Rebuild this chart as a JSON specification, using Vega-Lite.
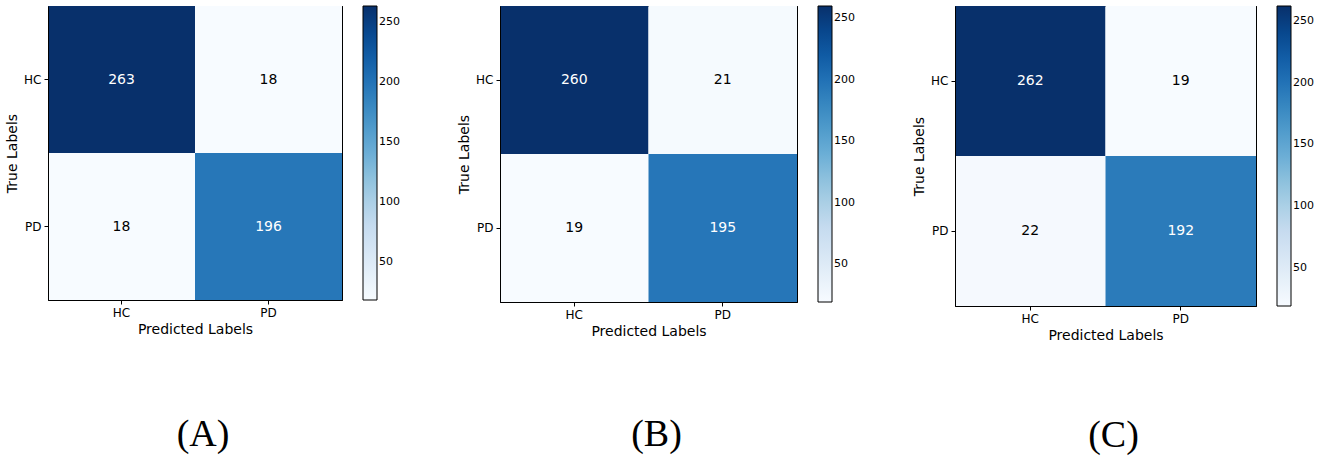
{
  "$schema": "https://vega.github.io/schema/vega-lite/v6.json",
  "background": "white",
  "padding": {"left": 5, "top": 5, "right": 0, "bottom": 0},
  "datasets": {
    "cm": [
      {"panel": "A", "actual": "HC", "pred": "HC", "count": 263},
      {"panel": "A", "actual": "HC", "pred": "PD", "count": 18},
      {"panel": "A", "actual": "PD", "pred": "HC", "count": 18},
      {"panel": "A", "actual": "PD", "pred": "PD", "count": 196},
      {"panel": "B", "actual": "HC", "pred": "HC", "count": 260},
      {"panel": "B", "actual": "HC", "pred": "PD", "count": 21},
      {"panel": "B", "actual": "PD", "pred": "HC", "count": 19},
      {"panel": "B", "actual": "PD", "pred": "PD", "count": 195},
      {"panel": "C", "actual": "HC", "pred": "HC", "count": 262},
      {"panel": "C", "actual": "HC", "pred": "PD", "count": 19},
      {"panel": "C", "actual": "PD", "pred": "HC", "count": 22},
      {"panel": "C", "actual": "PD", "pred": "PD", "count": 192}
    ]
  },
  "data": {"name": "cm"},
  "spacing": 56,
  "hconcat": [
    {
      "width": 294, "height": 294,
      "transform": [{"filter": "datum.panel === 'A'"}],
      "title": {"text": "(A)", "orient": "bottom", "offset": 80, "dx": 8},
      "resolve": {"axis": {"x": "independent", "y": "independent"}},
      "layer": [
        {
          "mark": {"type": "rect"},
          "encoding": {
            "x": {"field": "pred", "type": "nominal", "sort": ["HC", "PD"], "title": "Predicted Labels", "scale": {"paddingInner": 0, "paddingOuter": 0}},
            "y": {"field": "actual", "type": "nominal", "sort": ["HC", "PD"], "title": "True Labels", "scale": {"paddingInner": 0, "paddingOuter": 0}},
            "color": {"field": "count", "type": "quantitative",
              "scale": {"domain": [18, 48.625, 79.25, 109.875, 140.5, 171.125, 201.75, 232.375, 263], "range": ["#f7fbff", "#deebf7", "#c6dbef", "#9ecae1", "#6baed6", "#4292c6", "#2171b5", "#08519c", "#08306b"], "interpolate": "rgb", "zero": false, "nice": false},
              "legend": {"title": null, "offset": 21, "gradientLength": 294, "gradientThickness": 14, "values": [50, 100, 150, 200, 250]}}
          }
        },
        {
          "mark": {"type": "text", "fontSize": 14, "font": "DejaVu Sans"},
          "encoding": {
            "x": {"field": "pred", "type": "nominal", "sort": ["HC", "PD"], "axis": {"orient": "top", "labels": false, "ticks": false, "title": null}},
            "y": {"field": "actual", "type": "nominal", "sort": ["HC", "PD"], "axis": {"orient": "right", "labels": false, "ticks": false, "title": null}},
            "text": {"field": "count", "type": "quantitative"},
            "color": {"condition": {"test": "datum.count > 140", "value": "white"}, "value": "black"}
          }
        }
      ]
    },
    {
      "width": 297, "height": 296,
      "transform": [{"filter": "datum.panel === 'B'"}],
      "title": {"text": "(B)", "orient": "bottom", "offset": 78, "dx": 8},
      "resolve": {"axis": {"x": "independent", "y": "independent"}},
      "layer": [
        {
          "mark": {"type": "rect"},
          "encoding": {
            "x": {"field": "pred", "type": "nominal", "sort": ["HC", "PD"], "title": "Predicted Labels", "scale": {"paddingInner": 0, "paddingOuter": 0}},
            "y": {"field": "actual", "type": "nominal", "sort": ["HC", "PD"], "title": "True Labels", "scale": {"paddingInner": 0, "paddingOuter": 0}},
            "color": {"field": "count", "type": "quantitative",
              "scale": {"domain": [19, 49.125, 79.25, 109.375, 139.5, 169.625, 199.75, 229.875, 260], "range": ["#f7fbff", "#deebf7", "#c6dbef", "#9ecae1", "#6baed6", "#4292c6", "#2171b5", "#08519c", "#08306b"], "interpolate": "rgb", "zero": false, "nice": false},
              "legend": {"title": null, "offset": 21, "gradientLength": 296, "gradientThickness": 14, "values": [50, 100, 150, 200, 250]}}
          }
        },
        {
          "mark": {"type": "text", "fontSize": 14, "font": "DejaVu Sans"},
          "encoding": {
            "x": {"field": "pred", "type": "nominal", "sort": ["HC", "PD"], "axis": {"orient": "top", "labels": false, "ticks": false, "title": null}},
            "y": {"field": "actual", "type": "nominal", "sort": ["HC", "PD"], "axis": {"orient": "right", "labels": false, "ticks": false, "title": null}},
            "text": {"field": "count", "type": "quantitative"},
            "color": {"condition": {"test": "datum.count > 140", "value": "white"}, "value": "black"}
          }
        }
      ]
    },
    {
      "width": 301, "height": 300,
      "transform": [{"filter": "datum.panel === 'C'"}],
      "title": {"text": "(C)", "orient": "bottom", "offset": 75, "dx": 8},
      "resolve": {"axis": {"x": "independent", "y": "independent"}},
      "layer": [
        {
          "mark": {"type": "rect"},
          "encoding": {
            "x": {"field": "pred", "type": "nominal", "sort": ["HC", "PD"], "title": "Predicted Labels", "scale": {"paddingInner": 0, "paddingOuter": 0}},
            "y": {"field": "actual", "type": "nominal", "sort": ["HC", "PD"], "title": "True Labels", "scale": {"paddingInner": 0, "paddingOuter": 0}},
            "color": {"field": "count", "type": "quantitative",
              "scale": {"domain": [19, 49.375, 79.75, 110.125, 140.5, 170.875, 201.25, 231.625, 262], "range": ["#f7fbff", "#deebf7", "#c6dbef", "#9ecae1", "#6baed6", "#4292c6", "#2171b5", "#08519c", "#08306b"], "interpolate": "rgb", "zero": false, "nice": false},
              "legend": {"title": null, "offset": 21, "gradientLength": 300, "gradientThickness": 14, "values": [50, 100, 150, 200, 250]}}
          }
        },
        {
          "mark": {"type": "text", "fontSize": 14, "font": "DejaVu Sans"},
          "encoding": {
            "x": {"field": "pred", "type": "nominal", "sort": ["HC", "PD"], "axis": {"orient": "top", "labels": false, "ticks": false, "title": null}},
            "y": {"field": "actual", "type": "nominal", "sort": ["HC", "PD"], "axis": {"orient": "right", "labels": false, "ticks": false, "title": null}},
            "text": {"field": "count", "type": "quantitative"},
            "color": {"condition": {"test": "datum.count > 140", "value": "white"}, "value": "black"}
          }
        }
      ]
    }
  ],
  "resolve": {"scale": {"color": "independent"}, "legend": {"color": "independent"}},
  "config": {
    "font": "DejaVu Sans",
    "view": {"stroke": "black", "strokeWidth": 1},
    "axis": {"domain": true, "domainColor": "black", "domainWidth": 1, "grid": false, "tickColor": "black", "tickSize": 4, "labelColor": "black", "titleColor": "black", "labelFont": "DejaVu Sans", "titleFont": "DejaVu Sans", "labelFontSize": 12, "titleFontSize": 14, "titleFontWeight": "normal", "labelPadding": 3, "titlePadding": 4, "labelAngle": 0},
    "legend": {"gradientStrokeColor": "black", "gradientStrokeWidth": 1, "labelFont": "DejaVu Sans", "labelFontSize": 11, "labelColor": "black", "labelOffset": 8, "labelOverlap": false, "gradientVerticalMaxLength": 400, "direction": "vertical", "orient": "right", "padding": 0},
    "title": {"font": "Liberation Serif", "fontSize": 38, "fontWeight": "normal", "color": "black", "anchor": "middle", "baseline": "top"}
  }
}
